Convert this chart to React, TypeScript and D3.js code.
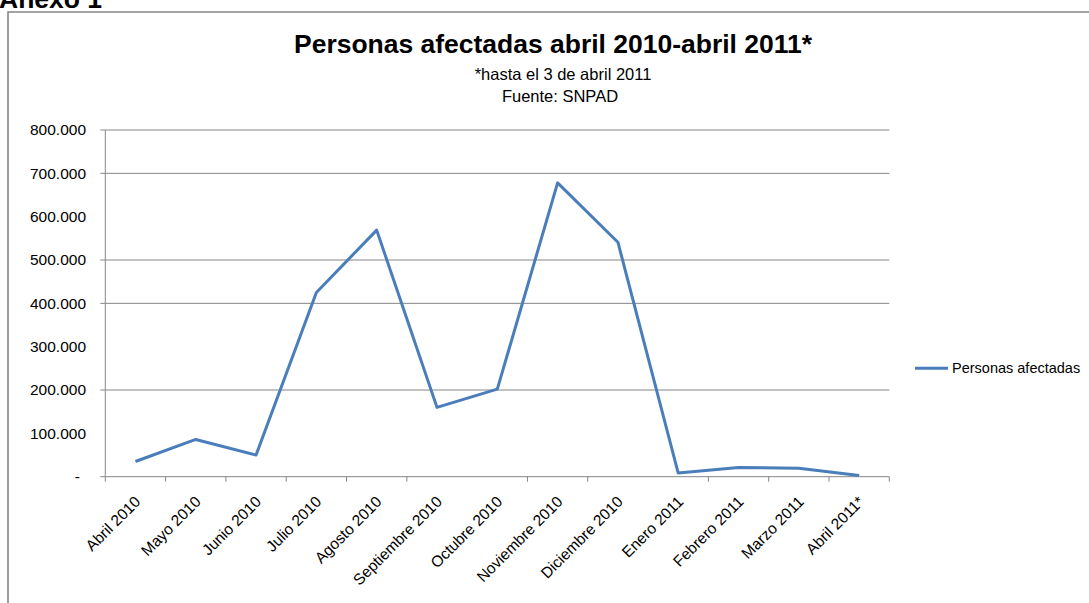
import React from "react";
import * as d3 from "d3";

const categories = [
  "Abril 2010", "Mayo 2010", "Junio 2010", "Julio 2010", "Agosto 2010",
  "Septiembre 2010", "Octubre 2010", "Noviembre 2010", "Diciembre 2010",
  "Enero 2011", "Febrero 2011", "Marzo 2011", "Abril 2011*",
];
const personasAfectadas = [
  35000, 86000, 50000, 425000, 569000, 160000, 202000, 678000, 541000,
  8500, 21000, 19500, 3000,
];
const yTicks = [0, 100000, 200000, 300000, 400000, 500000, 600000, 700000, 800000];
// gridlines that are visible in the reference
const gridValues = [200000, 400000, 500000, 700000, 800000];
// category edges whose tick marks are not visible in the reference
const hiddenXTickEdges = [6, 9];

const title = "Personas afectadas abril 2010-abril 2011*";
const subtitle = "*hasta el 3 de abril 2011";
const source = "Fuente: SNPAD";
const seriesName = "Personas afectadas";

const W = 1089;
const H = 603;
const plot = { left: 105.3, right: 889.3, top: 130, bottom: 476.7 };
const FONT = "'Liberation Sans', Arial, sans-serif";
const GRID = "#868686";
const BLUE = "#4A7EBB";

const fmt = (v: number) =>
  v === 0 ? "-" : d3.format(",")(v).replace(/,/g, ".");

export default function App() {
  const x = d3
    .scaleBand<string>()
    .domain(categories)
    .range([plot.left, plot.right])
    .paddingInner(0)
    .paddingOuter(0);
  const y = d3.scaleLinear().domain([0, 800000]).range([plot.bottom, plot.top]);
  const cx = (c: string) => (x(c) as number) + x.bandwidth() / 2;

  const line = d3
    .line<number>()
    .x((_, i) => cx(categories[i]))
    .y((d) => y(d));

  const edges = d3.range(categories.length + 1).filter((k) => !hiddenXTickEdges.includes(k));
  const shownY = yTicks.filter((t) => t === 0 || gridValues.includes(t));

  return (
    <svg
      width={W}
      height={H}
      style={{ position: "absolute", left: 0, top: 0, background: "#fff" }}
      fontFamily={FONT}
    >
      <rect x={0} y={0} width={W} height={H} fill="#fff" />
      <text x={-1} y={8} fontSize={26.5} fontWeight="bold" fill="#000">
        Anexo 1
      </text>
      {/* chart frame */}
      <path d={`M8,${H + 5} L8,12 L${W + 5},12`} fill="none" stroke={GRID} strokeWidth={1.6} />

      {/* titles */}
      <text x={553} y={52.7} fontSize={26.5} fontWeight="bold" textAnchor="middle" textLength={518} lengthAdjust="spacingAndGlyphs" fill="#000">
        {title}
      </text>
      <text x={563} y={80} fontSize={16.5} textAnchor="middle" fill="#000">
        {subtitle}
      </text>
      <text x={560} y={102} fontSize={16.5} textAnchor="middle" fill="#000">
        {source}
      </text>

      {/* gridlines */}
      {gridValues.map((v) => (
        <line key={v} x1={plot.left} x2={plot.right} y1={y(v)} y2={y(v)} stroke={GRID} strokeWidth={1} />
      ))}
      {/* y axis */}
      <line x1={plot.left} x2={plot.left} y1={plot.top} y2={plot.bottom} stroke={GRID} strokeWidth={1} />
      {shownY.map((t) => (
        <line key={t} x1={plot.left - 5} x2={plot.left} y1={y(t)} y2={y(t)} stroke={GRID} strokeWidth={1} />
      ))}
      {yTicks.map((t) => (
        <text key={t} x={t === 0 ? 80 : 86} y={y(t)} dy="0.35em" fontSize={15.5} textAnchor="end" fill="#000">
          {fmt(t)}
        </text>
      ))}
      {/* x axis */}
      <line x1={plot.left} x2={plot.right} y1={plot.bottom} y2={plot.bottom} stroke={GRID} strokeWidth={1} />
      {edges.map((k) => {
        const xx = plot.left + k * x.step();
        return <line key={k} x1={xx} x2={xx} y1={plot.bottom} y2={plot.bottom + 5} stroke={GRID} strokeWidth={1} />;
      })}
      {categories.map((c) => (
        <text
          key={c}
          transform={`translate(${cx(c) + 6},${plot.bottom + 26}) rotate(-45)`}
          fontSize={15.5}
          textAnchor="end"
          fill="#000"
        >
          {c}
        </text>
      ))}

      {/* series */}
      <path d={line(personasAfectadas) || ""} fill="none" stroke={BLUE} strokeWidth={3} strokeLinejoin="round" />

      {/* legend */}
      <line x1={915} x2={948} y1={368.3} y2={368.3} stroke={BLUE} strokeWidth={3} />
      <text x={952} y={368.3} dy="0.35em" fontSize={14.5} fill="#000">
        {seriesName}
      </text>
    </svg>
  );
}
